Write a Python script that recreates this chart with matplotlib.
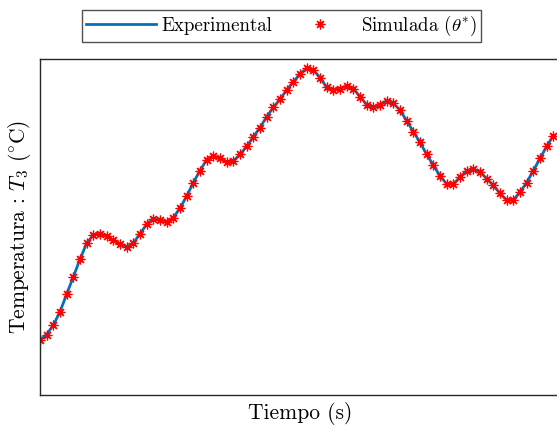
"""
Temperatura T3: experimental vs simulada
"""
import numpy as np
import matplotlib
matplotlib.use('Agg')
import matplotlib.pyplot as plt

plt.rcParams['font.family'] = 'serif'
plt.rcParams['font.serif'] = ['cmr10', 'DejaVu Serif']
plt.rcParams['mathtext.fontset'] = 'cm'
plt.rcParams['axes.unicode_minus'] = False

# time samples (s)
tiempo = np.arange(78) * 10

# temperature T3 (deg C)
temp_exp = [24.1, 24.5, 25.2, 26.2, 27.5, 28.8, 30.1, 31.3, 31.9, 32.0,
            31.8, 31.5, 31.2, 31.0, 31.3, 32.0, 32.7, 33.1, 33.0, 32.9,
            33.2, 33.9, 34.8, 35.8, 36.7, 37.5, 37.8, 37.6, 37.3, 37.4,
            37.9, 38.5, 39.2, 39.9, 40.7, 41.4, 42.0, 42.7, 43.3, 43.9,
            44.3, 44.2, 43.6, 42.9, 42.7, 42.8, 43.0, 42.8, 42.2, 41.6,
            41.4, 41.6, 41.9, 41.7, 41.2, 40.4, 39.6, 38.8, 37.9, 37.1,
            36.3, 35.7, 35.7, 36.2, 36.7, 36.8, 36.6, 36.1, 35.6, 35.0,
            34.5, 34.5, 35.1, 35.8, 36.7, 37.6, 38.5, 39.3]
temp_sim = [24.1, 24.5, 25.2, 26.2, 27.5, 28.8, 30.1, 31.3, 31.9, 32.0,
            31.8, 31.5, 31.2, 31.0, 31.3, 32.0, 32.7, 33.1, 33.0, 32.9,
            33.2, 33.9, 34.8, 35.8, 36.7, 37.5, 37.8, 37.6, 37.3, 37.4,
            37.9, 38.5, 39.2, 39.9, 40.7, 41.4, 42.0, 42.7, 43.3, 43.9,
            44.3, 44.2, 43.6, 42.9, 42.7, 42.8, 43.0, 42.8, 42.2, 41.6,
            41.4, 41.6, 41.9, 41.7, 41.2, 40.4, 39.6, 38.8, 37.9, 37.1,
            36.3, 35.7, 35.7, 36.2, 36.7, 36.8, 36.6, 36.1, 35.6, 35.0,
            34.5, 34.5, 35.1, 35.8, 36.7, 37.6, 38.5, 39.3]


def main():
    fig = plt.figure(figsize=(5.57, 4.28), dpi=100)
    ax = fig.add_axes([40 / 557, 33 / 428, 520 / 557, 336 / 428])

    ax.plot(tiempo, temp_exp, color='#0072BD', linewidth=2.0, label='Experimental')
    ax.plot(tiempo, temp_sim, linestyle='none', marker=(8, 2, 0), markersize=7,
            markeredgewidth=0.9, color='red', label=r'Simulada ($\theta^{*}$)')

    ax.set_xlim(0, 780)
    ax.set_ylim(20, 45)
    ax.set_xticks([])
    ax.set_yticks([])
    for s in ax.spines.values():
        s.set_color('#262626')
        s.set_linewidth(1.0)

    ax.set_xlabel('Tiempo (s)', fontsize=15.5, labelpad=5)
    ax.set_ylabel(r'Temperatura : $T_3$ ($^{\circ}$C)', fontsize=15.5, labelpad=5)

    leg = fig.legend(loc='upper center', bbox_to_anchor=(281.5 / 557, 1 - 10 / 428),
                     borderaxespad=0, ncol=2, fontsize=13.6, fancybox=False,
                     frameon=True, handlelength=3.7, columnspacing=0.7,
                     borderpad=0.2, handletextpad=0.3)
    leg.get_frame().set_edgecolor('#262626')
    leg.get_frame().set_linewidth(1.0)

    fig.savefig('out.png', dpi=100)


if __name__ == '__main__':
    main()
